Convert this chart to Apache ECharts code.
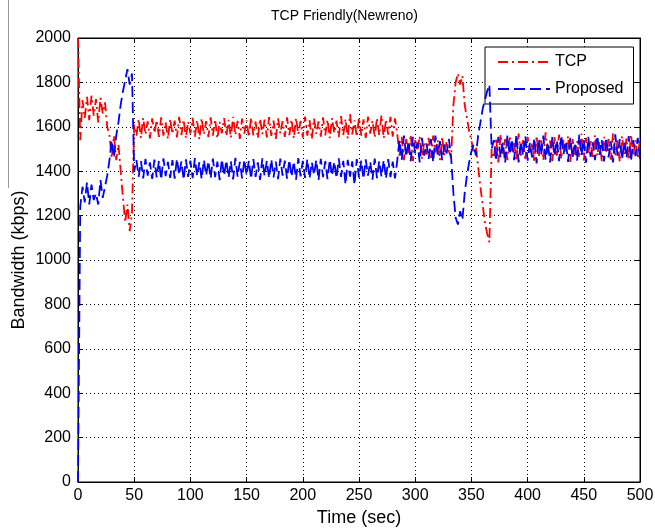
<!DOCTYPE html>
<html>
<head>
<meta charset="utf-8">
<title>TCP Friendly(Newreno)</title>
<script src="https://cdn.jsdelivr.net/npm/echarts@6/dist/echarts.min.js"></script>
<style>
  html, body { margin: 0; padding: 0; background: #fff; }
  #chart { width: 655px; height: 530px; }
</style>
</head>
<body>
<div id="chart"></div>
<script>
// Sampling interval of both traces (seconds); samples run from 0 to 500 s.
const SAMPLE_STEP_SEC = 2;

const seriesNames = ['TCP', 'Proposed'];
const xTicks = [0, 50, 100, 150, 200, 250, 300, 350, 400, 450, 500];
const yTicks = [0, 200, 400, 600, 800, 1000, 1200, 1400, 1600, 1800, 2000];

// TCP (Newreno) bandwidth, kbps
const tcpKbps = [
  // 0 - 50 s
  2000,1540,1720,1640,1735,1630,1740,1650,1725,1620,1730,1660,1710,1600,1560,1460,1560,1450,1520,1400,1280,1170,1250,1130,1210,1610,
  // 52 - 284 s
  1560,1635,1550,1640,1565,1625,1548,1638,1572,1630,
  1555,1642,1560,1620,1545,1636,1568,1628,1552,1645,
  1562,1632,1548,1624,1570,1640,1556,1630,1544,1638,
  1566,1626,1553,1642,1560,1634,1547,1622,1571,1639,
  1558,1631,1550,1645,1563,1627,1546,1637,1569,1629,
  1554,1641,1561,1623,1549,1636,1567,1632,1552,1644,
  1559,1628,1546,1638,1570,1625,1555,1642,1562,1633,
  1548,1640,1566,1627,1551,1646,1560,1630,1545,1637,
  1568,1624,1556,1643,1561,1632,1549,1639,1572,1628,
  1553,1648,1563,1635,1547,1657,1566,1629,1555,1641,
  1560,1634,1550,1646,1569,1627,1552,1640,1562,1652,
  1548,1633,1565,1645,1556,1638,1571,
  // 286 - 332 s
  1470,1555,1450,1545,1480,1565,1445,1540,1490,1558,1455,1530,1475,1550,1460,1560,1485,1540,1450,1555,1470,1535,1490,1460,
  // 334 - 368 s
  1700,1800,1840,1790,1830,1700,1640,1580,1540,1480,1510,1420,1330,1250,1170,1120,1080,1500,
  // 370 - 500 s
  1460,1550,1440,1565,1475,1545,1450,1560,1490,1535,
  1445,1570,1470,1540,1455,1555,1485,1530,1440,1560,
  1465,1548,1450,1575,1480,1538,1445,1552,1470,1565,
  1455,1540,1490,1558,1442,1545,1475,1535,1460,1568,
  1448,1550,1482,1540,1455,1562,1470,1532,1445,1555,
  1488,1545,1452,1570,1465,1538,1442,1558,1478,1548,
  1450,1565,1470,1540,1458,1552
];

// Proposed scheme bandwidth, kbps
const proposedKbps = [
  // 0 - 50 s
  0,1240,1330,1260,1350,1250,1340,1270,1300,1250,1360,1280,1330,1380,1450,1540,1460,1560,1620,1700,1760,1810,1860,1790,1840,1400,
  // 52 - 284 s
  1450,1375,1445,1368,1455,1380,1440,1365,1452,1372,
  1447,1362,1458,1378,1442,1370,1450,1366,1456,1383,
  1444,1361,1453,1374,1448,1369,1459,1377,1441,1364,
  1451,1381,1446,1367,1457,1373,1443,1360,1454,1379,
  1449,1371,1445,1363,1460,1376,1442,1368,1452,1382,
  1447,1365,1455,1374,1440,1361,1458,1378,1446,1369,
  1453,1372,1443,1364,1457,1380,1448,1366,1451,1375,
  1444,1362,1459,1377,1446,1370,1454,1367,1441,1383,
  1450,1360,1456,1373,1445,1364,1452,1379,1443,1368,
  1458,1374,1447,1340,1451,1376,1444,1338,1455,1371,
  1448,1365,1453,1380,1442,1362,1457,1369,1446,1375,
  1450,1366,1454,1373,1443,1368,1445,
  // 286 - 332 s
  1540,1450,1560,1465,1535,1445,1555,1480,1530,1440,1550,1470,1525,1455,1545,1440,1560,1475,1535,1450,1520,1480,1545,1460,
  // 334 - 368 s
  1300,1190,1160,1220,1180,1300,1380,1440,1490,1520,1470,1560,1620,1680,1720,1760,1790,1500,
  // 370 - 500 s
  1540,1445,1555,1460,1530,1438,1560,1475,1545,1450,
  1565,1440,1535,1470,1558,1448,1528,1462,1550,1435,
  1545,1472,1560,1452,1532,1440,1555,1468,1540,1445,
  1562,1478,1536,1442,1550,1460,1528,1448,1565,1470,
  1542,1438,1555,1465,1530,1450,1560,1474,1540,1444,
  1552,1462,1535,1440,1566,1470,1545,1452,1530,1460,
  1558,1445,1540,1468,1550,1455
];

const FONT = '"Liberation Sans", Arial, Helvetica, sans-serif';

function withTime(values) {
  return values.map((v, i) => [i * SAMPLE_STEP_SEC, v]);
}

const chart = echarts.init(document.getElementById('chart'), null, { renderer: 'canvas' });

const gridDots = { show: true, lineStyle: { color: '#000', width: 1, type: [1, 3] } };
const innerTick = { show: true, inside: true, length: 5, lineStyle: { color: '#000', width: 1 } };
const blackLine = { show: true, onZero: false, lineStyle: { color: '#000', width: 1 } };
const plainNumber = (v) => String(v);

const xMin = xTicks[0], xMax = xTicks[xTicks.length - 1];
const yMin = yTicks[0], yMax = yTicks[yTicks.length - 1];
const xStep = xTicks[1] - xTicks[0], yStep = yTicks[1] - yTicks[0];

chart.setOption({
  backgroundColor: '#fff',
  animation: false,
  title: {
    text: 'TCP Friendly(Newreno)',
    left: 266,
    top: 4,
    textStyle: { fontFamily: FONT, fontSize: 14, fontWeight: 'normal', color: '#000' }
  },
  grid: { left: 78, right: 15, top: 38, bottom: 48, containLabel: false,
          outerBoundsMode: 'none',
          show: true, borderColor: '#000', borderWidth: 1 },
  legend: {
    data: seriesNames,
    orient: 'vertical',
    left: 485,
    top: 47,
    padding: [7, 10, 7, 12],
    itemWidth: 52,
    itemHeight: 14,
    itemGap: 11,
    backgroundColor: '#fff',
    borderColor: '#000',
    borderWidth: 1,
    borderRadius: 0,
    itemStyle: { opacity: 0 },
    textStyle: { fontFamily: FONT, fontSize: 16, color: '#000' }
  },
  xAxis: [
    {
      type: 'value', min: xMin, max: xMax, interval: xStep, position: 'bottom',
      name: 'Time (sec)', nameLocation: 'middle', nameGap: 27, nameMoveOverlap: false,
      nameTextStyle: { fontFamily: FONT, fontSize: 18, color: '#000' },
      axisLine: blackLine, axisTick: innerTick,
      axisLabel: { fontFamily: FONT, fontSize: 16, color: '#000', margin: 6, formatter: plainNumber },
      splitLine: gridDots
    },
    {
      type: 'value', min: xMin, max: xMax, interval: xStep, position: 'top',
      axisLine: blackLine, axisTick: innerTick,
      axisLabel: { show: false }, splitLine: { show: false }
    }
  ],
  yAxis: [
    {
      type: 'value', min: yMin, max: yMax, interval: yStep, position: 'left',
      name: 'Bandwidth (kbps)', nameLocation: 'middle', nameGap: 50, nameRotate: 90,
      nameMoveOverlap: false,
      nameTextStyle: { fontFamily: FONT, fontSize: 18, color: '#000' },
      axisLine: blackLine, axisTick: innerTick,
      axisLabel: { fontFamily: FONT, fontSize: 16, color: '#000', margin: 7, formatter: plainNumber },
      splitLine: gridDots
    },
    {
      type: 'value', min: yMin, max: yMax, interval: yStep, position: 'right',
      axisLine: blackLine, axisTick: innerTick,
      axisLabel: { show: false }, splitLine: { show: false }
    }
  ],
  series: [
    {
      name: seriesNames[0], type: 'line', xAxisIndex: 0, yAxisIndex: 0,
      data: withTime(tcpKbps),
      symbol: 'none', showSymbol: false,
      color: '#ff0000',
      lineStyle: { color: '#ff0000', width: 1.8, type: [10, 4, 2, 4] },
      z: 3
    },
    {
      name: seriesNames[1], type: 'line', xAxisIndex: 0, yAxisIndex: 0,
      data: withTime(proposedKbps),
      symbol: 'none', showSymbol: false,
      color: '#0000ff',
      lineStyle: { color: '#0000ff', width: 1.8, type: [11, 5] },
      z: 4
    }
  ],
  graphic: [
    {
      type: 'line', silent: true,
      shape: { x1: 8.5, y1: 0, x2: 8.5, y2: 188 },
      style: { stroke: '#999', lineWidth: 1 }
    }
  ]
});
</script>
</body>
</html>
